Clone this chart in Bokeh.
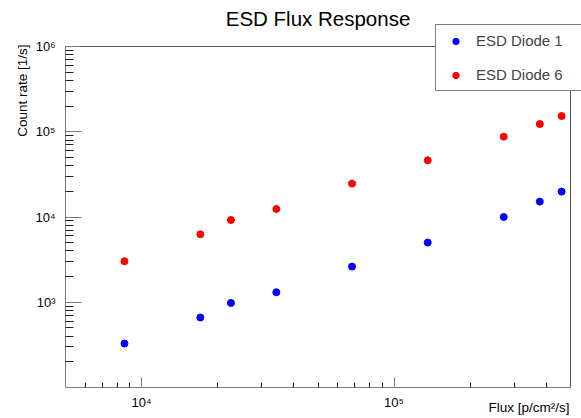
from bokeh.plotting import figure
from bokeh.models import (Range1d, FixedTicker, CustomJSTickFormatter, Label,
                          Legend, LegendItem)
from bokeh.embed import file_html
from bokeh.resources import INLINE
import math

# ---- data ----
flux = [8.56e3, 1.71e4, 2.26e4, 3.42e4, 6.82e4, 1.36e5, 2.72e5, 3.78e5, 4.61e5]
diode1 = [328, 662, 981, 1310, 2620, 5010, 10000, 15150, 19850]
diode6 = [3025, 6270, 9220, 12410, 24640, 46200, 87600, 123100, 152800]
series_names = ["ESD Diode 1", "ESD Diode 6"]
series_colors = ["#0000ff", "#ff0000"]
title_text = "ESD Flux Response"
x_title = "Flux [p/cm\u00b2/s]"
y_title = "Count rate [1/s]"
x_major = [1e4, 1e5]
y_major = [1e3, 1e4, 1e5, 1e6]
x_lim = (5e3, 5e5)
y_lim = (1e2, 1e6)

FONT = "Liberation Sans"
W, H = 581, 418
# pixel box of the axes frame on the canvas
FL, FR, FT, FB = 65, 570, 46, 387

# extend ranges so that the whole canvas is the frame
lx0, lx1 = math.log10(x_lim[0]), math.log10(x_lim[1])
ly0, ly1 = math.log10(y_lim[0]), math.log10(y_lim[1])
ppx = (FR - FL) / (lx1 - lx0)
ppy = (FB - FT) / (ly1 - ly0)
xr = Range1d(10 ** (lx0 - FL / ppx), 10 ** (lx1 + (W - FR) / ppx))
yr = Range1d(10 ** (ly0 - (H - FB) / ppy), 10 ** (ly1 + FT / ppy))


def minor_ticks(lo, hi):
    out = []
    for e in range(int(math.floor(math.log10(lo))), int(math.ceil(math.log10(hi))) + 1):
        for m in range(2, 10):
            v = m * 10 ** e
            if lo < v < hi:
                out.append(v)
    return out


p = figure(width=W, height=H, x_axis_type="log", y_axis_type="log",
           x_range=xr, y_range=yr,
           output_backend="svg", toolbar_location=None,
           min_border_left=0, min_border_right=0,
           min_border_top=0, min_border_bottom=0)
p.background_fill_color = "white"
p.border_fill_color = "white"
p.outline_line_color = None
p.xgrid.visible = False
p.ygrid.visible = False

fmt = CustomJSTickFormatter(code="""
const sup = {"0":"\u2070","1":"\u00b9","2":"\u00b2","3":"\u00b3","4":"\u2074",
             "5":"\u2075","6":"\u2076","7":"\u2077","8":"\u2078","9":"\u2079","-":"\u207b"};
const e = Math.round(Math.log10(tick));
return "10" + String(e).split("").map(c => sup[c]).join("");
""")

p.xaxis.ticker = FixedTicker(ticks=x_major, minor_ticks=minor_ticks(*x_lim))
p.yaxis.ticker = FixedTicker(ticks=y_major, minor_ticks=minor_ticks(*y_lim))
p.xaxis.fixed_location = y_lim[0]
p.yaxis.fixed_location = x_lim[0]
for ax in (p.xaxis, p.yaxis):
    ax.formatter = fmt
    ax.axis_line_color = None
    ax.major_tick_line_color = "#7a7a7a"
    ax.minor_tick_line_color = "#222222"
    ax.major_tick_out = 0
    ax.minor_tick_out = 0
    ax.major_label_text_font = FONT
    ax.major_label_text_font_size = "13px"
    ax.major_label_text_color = "black"
p.xaxis.major_tick_in = 10
p.xaxis.minor_tick_in = 5
p.xaxis.major_label_standoff = 7
p.yaxis.major_tick_in = 16
p.yaxis.minor_tick_in = 8
p.yaxis.major_label_standoff = 10

# frame box
p.segment(x0=[x_lim[0], x_lim[0]], y0=[y_lim[0], y_lim[0]],
          x1=[x_lim[0], x_lim[1]], y1=[y_lim[1], y_lim[0]],
          line_color="#7a7a7a", line_width=1)
p.segment(x0=[x_lim[0], x_lim[1]], y0=[y_lim[1], y_lim[0]],
          x1=[x_lim[1], x_lim[1]], y1=[y_lim[1], y_lim[1]],
          line_color="#555555", line_width=1)

r1 = p.scatter(flux, diode1, marker="circle", size=7,
               fill_color=series_colors[0], line_color=series_colors[0])
r2 = p.scatter(flux, diode6, marker="circle", size=7,
               fill_color=series_colors[1], line_color=series_colors[1])

legend = Legend(items=[LegendItem(label=series_names[0], renderers=[r1]),
                       LegendItem(label=series_names[1], renderers=[r2])],
                location=(435, H - 91), margin=0, padding=7, spacing=17,
                glyph_width=25, glyph_height=16, label_height=16,
                label_width=135, label_standoff=8, label_text_font=FONT,
                label_text_font_size="15px",
                border_line_color="black", border_line_width=1,
                background_fill_color="white", background_fill_alpha=1.0)
p.add_layout(legend, "center")

p.add_layout(Label(x=(FL + FR) / 2, y=H - 17.8, x_units="screen", y_units="screen",
                   text=title_text, text_font=FONT, text_font_size="20.5px",
                   text_align="center", text_baseline="middle",
                   text_color="black"))
p.add_layout(Label(x=21.5, y=H - FT + 2, x_units="screen", y_units="screen",
                   text=y_title, text_font=FONT, text_font_size="13.5px",
                   angle=math.pi / 2, text_align="right", text_baseline="middle",
                   text_color="black"))
p.add_layout(Label(x=FR - 1, y=H - 407, x_units="screen", y_units="screen",
                   text=x_title, text_font=FONT, text_font_size="13.5px",
                   text_align="right", text_baseline="middle",
                   text_color="black"))

open("out.html", "w").write(file_html(p, INLINE))
